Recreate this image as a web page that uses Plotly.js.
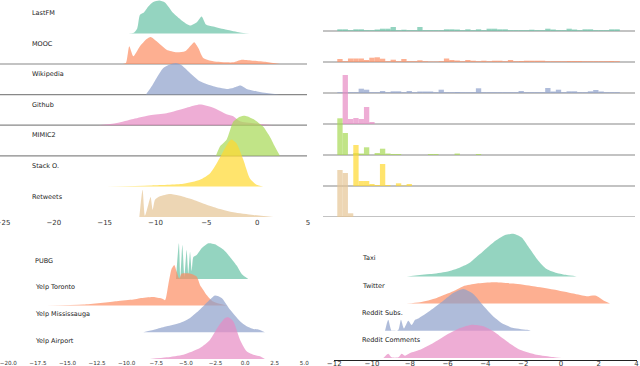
<!DOCTYPE html>
<html>
<head>
<meta charset="utf-8">
<script src="https://cdn.plot.ly/plotly-3.0.1.min.js"></script>
<style>body{margin:0;background:#fff}#chart{width:640px;height:366px}</style>
</head>
<body>
<div id="chart"></div>
<script>
// Set2 palette, one colour per ridge row
var colors = ['#66c2a5', '#fc8d62', '#8da0cb', '#e78ac3', '#a6d854', '#ffd92f', '#e5c494'];

// ---- top left: density ridges ----
var topNames = ['LastFM', 'MOOC', 'Wikipedia', 'Github', 'MIMIC2', 'Stack O.', 'Retweets'];

var lastfmX = [-13.17, -12.19, -11.8, -11.53, -11.14, -10.71, -10.22, -9.63, -9.07, -8.25, -7.43, -6.61, -5.96, -5.46, -5.04, -4.32, -3.0, -1.7, -0.78];
var lastfmY = [0, 0.3, 5, 18.7, 21, 27, 31.5, 33, 31, 20.3, 13, 8, 11, 17, 9, 7, 3.7, 1, 0];

var moocX = [-13.23, -12.9, -12.58, -12.18, -11.53, -10.87, -10.48, -9.89, -8.91, -7.92, -7.1, -6.45, -6.19, -5.79, -5.3, -4.32, -2.35, -1.53, -0.38, 0.93, 2.24];
var moocY = [0, 1, 17.7, 7.7, 17.7, 25, 27, 22.7, 14.3, 11.7, 12.7, 19.3, 21.7, 16, 6, 2.7, 1.7, 4.3, 3.3, 2, 0];

var wikiX = [-10.94, -10.38, -9.89, -9.23, -8.58, -7.99, -7.43, -6.61, -5.63, -4.32, -3.01, -2.35, -1.63, -1.04, 0.27, 2.24];
var wikiY = [0, 8.3, 16.7, 26.7, 30, 31.5, 29.3, 21.7, 13.3, 8.3, 5.7, 6.7, 9, 5.7, 2.7, 0];

var githubX = [-15.63, -13.82, -12.18, -10.55, -8.91, -6.94, -5.63, -4.32, -3.01, -2.35, -1.7, 0.27, 1.58];
var githubY = [0, 2.3, 6.3, 10, 12, 17.5, 20.7, 17.5, 11, 9, 4, 1.3, 0];

var mimicX = [-4.06, -3.66, -3.01, -2.35, -1.7, -1.2, -0.38, 0.6, 1.25, 1.75, 2.24];
var mimicY = [0, 9.3, 16, 34, 39, 40, 36.7, 29, 19, 9, 0];

var stackX = [-14.81, -10.55, -7.27, -5.63, -4.65, -3.99, -3.34, -2.84, -2.52, -2.02, -1.37, -0.71, -0.06, 0.6];
var stackY = [0, 1, 2.7, 6.7, 13, 23, 35, 44, 47, 43, 27, 8, 1.7, 0];

var retweetX = [-11.59, -11.27, -11.04, -10.71, -10.48, -10.28, -10.05, -9.56, -8.58, -7.6, -6.28, -4.97, -3.66, -2.35, -0.38, 1.58];
var retweetY = [0, 27.3, 1.3, 12.3, 20, 7.3, 17.3, 20.7, 23, 21.3, 17.3, 12.3, 8, 4.7, 2, 0];

// ---- top right: histograms, one bar per bin ----
var lastfmBins = [1.7, 1.7, 0.8, 1.7, 1.7, 0.8, 0.8, 1.5, 2.3, 2.3, 4, 0.8, 1.3, 0.8, 0.8, 4, 0.8, 0.8, 0.8, 0.8, 1.7, 1.7, 1.5, 0.8, 1.7, 0.8, 1.7, 0.8, 2.3, 2.3, 1.7, 1.7, 0.8, 0.8, 0.8, 0.8, 1.3, 0.8, 0.8, 2.3, 1.5, 0.8, 0.8, 2.3, 1.5, 0.8, 1.7, 1.7, 0.8, 0.8, 0.8, 1.7, 1.7];
var moocBins = [3, 0.8, 3.5, 3.5, 3.5, 2, 4.3, 4.7, 3.3, 0.8, 2.3, 0.8, 3, 0.8, 0.8, 1.7, 0.8, 0.5, 0.5, 0.8, 3.5, 2, 1.5, 0.8, 2, 1.3, 0.8, 1.3, 0.8, 1.3, 1.3, 0.8, 2, 0.8, 1, 1.3, 1.3, 1.3, 1.3, 0.8, 0.8, 0.8, 0.8, 1, 1, 1, 0.8, 0.8, 0.8, 0.8, 0.8, 1, 0.8];
var wikiBins = [0.8, 0.8, 0.8, 0.8, 4.3, 3.3, 0.8, 0.8, 2, 0.8, 1.7, 1.7, 0.8, 2, 0.8, 1.5, 1.5, 1.5, 0.8, 3.3, 0.8, 0.8, 1, 0.8, 0.8, 0.8, 4.7, 0.8, 0.8, 0.8, 0.8, 0.8, 0.8, 0.8, 2, 0.8, 0.8, 0.8, 0.8, 5, 1.5, 3.3, 0.8, 1.7, 1.7, 0.8, 0.8, 1.7, 3, 1.5, 0.8, 0.8, 0.8];
var githubBins = [0, 49, 5, 6, 5, 17, 2];
var mimicBins = [36.7, 22, 0, 2, 1.5, 7.7, 0, 2, 6.3, 1.5, 1, 1, 0, 0, 0, 0, 0, 1, 1, 0, 0, 0, 1.5, 0, 0, 0, 1];
var stackBins = [0, 0, 0, 41, 5, 5, 2, 1, 22, 1, 0, 2.7, 0.5, 2];
var retweetBins = [47, 44, 3.7];

// ---- bottom left ----
var bottomLeftNames = ['PUBG', 'Yelp Toronto', 'Yelp Mississauga', 'Yelp Airport'];
var pubgX = [-5.84, -5.59, -5.47, -5.30, -5.13, -4.94, -4.80, -4.65, -4.51, -4.37, -4.09, -3.67, -3.10, -2.55, -1.84, -1.28, -0.71, -0.29, 0.27];
var pubgY = [0, 35.7, 1, 34, 2, 29, 5, 27, 8, 22, 24, 30.7, 35.7, 34.7, 29.3, 22, 13.3, 5, 0];
var torontoX = [-16.76, -13.66, -10.85, -9.44, -8.88, -7.76, -7.05, -6.76, -6.49, -6.20, -5.98, -5.78, -5.56, -5.35, -4.65, -4.09, -3.81, -3.53, -3.25, -2.69, -1.55];
var torontoY = [0, 1, 4.3, 6, 7.3, 8.5, 7, 5.5, 20.7, 37, 40.7, 34, 27, 32, 32, 29, 20.7, 15.7, 10.7, 4, 0];
var missX = [-8.60, -7.47, -6.62, -5.50, -4.65, -3.81, -2.96, -2.55, -1.98, -1.28, -0.43, 0.13, 0.70, 1.11, 1.68];
var missY = [0, 3.3, 6, 9.3, 14.3, 22.7, 32.7, 36.7, 34.3, 22.7, 11, 6, 3.3, 2.7, 0];
var airportX = [-8.03, -6.62, -5.22, -3.81, -2.96, -2.26, -1.69, -1.42, -1.00, -0.43, 0.13, 0.70, 1.26, 1.68];
var airportY = [0, 1.7, 4.3, 11, 19.3, 32.7, 41, 41.7, 37.7, 19.3, 7.7, 4.3, 2.7, 0];

// ---- bottom right ----
var bottomRightNames = ['Taxi', 'Twitter', 'Reddit Subs.', 'Reddit Comments'];
var taxiX = [-8.16, -6.93, -6.05, -5.34, -4.81, -4.29, -3.58, -2.96, -2.52, -2.08, -1.64, -1.2, -0.76, -0.23, 0.3, 0.83];
var taxiY = [0, 2.3, 4.7, 9, 14, 22.3, 34, 41.3, 42.7, 39, 27.3, 15.7, 7.3, 3.3, 1.3, 0];
var twitterX = [-8.2, -7.46, -6.58, -5.7, -5.17, -4.46, -3.58, -2.52, -1.47, -0.41, 0.65, 1.36, 1.8, 2.06, 2.33, 2.59];
var twitterY = [0, 1.3, 5.7, 12.3, 17.3, 20, 21.3, 20, 17.3, 14, 10, 7.3, 8, 5.7, 2.3, 0];
var redsubX = [-9.31, -9.14, -8.96, -8.61, -8.47, -8.31, -8.08, -7.9, -7.72, -7.55, -6.93, -6.23, -5.7, -5.17, -4.64, -4.11, -3.58, -3.05, -2.52, -1.73, -1.6];
var redsubY = [0, 11, 0, 0.7, 11, 2.3, 10, 5.7, 11, 12.3, 20, 30, 37.7, 41.7, 36.7, 25, 14.3, 6.7, 2.7, 0.7, 0];
var redcomX = [-9.4, -9.14, -8.96, -8.61, -8.43, -8.25, -7.99, -7.46, -6.76, -6.05, -5.34, -4.73, -4.11, -3.58, -2.87, -2.17, -1.29, -0.41, 0.04];
var redcomY = [0, 4.3, 0.7, 0.7, 4.3, 2.3, 5, 8.3, 15, 23.3, 30, 33.3, 31.7, 26.7, 16.7, 8.3, 3.3, 1, 0];

function fade(hex, a) {
  var r = parseInt(hex.slice(1, 3), 16), g = parseInt(hex.slice(3, 5), 16), b = parseInt(hex.slice(5, 7), 16);
  return 'rgba(' + r + ',' + g + ',' + b + ',' + a + ')';
}

// a ridge = invisible floor line + curve filled down to it
function ridge(xs, hs, base, color, xa, ya) {
  var floor = {x: [xs[0], xs[xs.length - 1]], y: [base, base], xaxis: xa, yaxis: ya,
    mode: 'lines', line: {width: 0}, hoverinfo: 'skip'};
  var curve = {x: xs, y: hs.map(function (h) { return base + h; }), xaxis: xa, yaxis: ya,
    mode: 'lines', line: {width: 0, shape: 'spline', smoothing: 0.6},
    fill: 'tonexty', fillcolor: fade(color, 0.7)};
  return [floor, curve];
}

var data = [];
var shapes = [];
var annotations = [];
var labelFont = {family: 'DejaVu Sans', size: 6.5, color: '#222'};

var tlX = [lastfmX, moocX, wikiX, githubX, mimicX, stackX, retweetX];
var tlY = [lastfmY, moocY, wikiY, githubY, mimicY, stackY, retweetY];
var tlGap = 30.6;
tlX.forEach(function (xs, i) {
  var base = (6 - i) * tlGap;
  data = data.concat(ridge(xs, tlY[i], base, colors[i], 'x', 'y'));
  annotations.push({text: topNames[i], xref: 'paper', x: 30 / 640, yref: 'y', y: base + 20.5,
    xanchor: 'left', yanchor: 'middle', showarrow: false, font: labelFont});
  if (i >= 1 && i <= 4) {
    shapes.push({type: 'line', xref: 'paper', x0: 0, x1: 307 / 640, yref: 'y', y0: base, y1: base,
      line: {color: '#888', width: 1.2}, layer: 'below'});
  }
});

var trBins = [lastfmBins, moocBins, wikiBins, githubBins, mimicBins, stackBins, retweetBins];
var trGap = 31;
trBins.forEach(function (vals, i) {
  var base = (6 - i) * trGap;
  data.push({type: 'bar', y: vals, base: base, width: 1, xaxis: 'x2', yaxis: 'y2',
    marker: {color: fade(colors[i], 0.7), line: {width: 0}}, hoverinfo: 'skip'});
  shapes.push({type: 'line', xref: 'x2 domain', x0: 0, x1: 1, yref: 'y2', y0: base, y1: base,
    line: {color: '#888', width: 1.2}, layer: 'below'});
});

var blX = [pubgX, torontoX, missX, airportX];
var blY = [pubgY, torontoY, missY, airportY];
var blGap = 26.7;
blX.forEach(function (xs, i) {
  var base = (3 - i) * blGap;
  data = data.concat(ridge(xs, blY[i], base, colors[i], 'x3', 'y3'));
  annotations.push({text: bottomLeftNames[i], xref: 'paper', x: 33 / 640, yref: 'y3', y: base + 18.3,
    xanchor: 'left', yanchor: 'middle', showarrow: false, font: labelFont});
});

var brX = [taxiX, twitterX, redsubX, redcomX];
var brY = [taxiY, twitterY, redsubY, redcomY];
var brGap = 27.2;
brX.forEach(function (xs, i) {
  var base = (3 - i) * brGap;
  data = data.concat(ridge(xs, brY[i], base, colors[i], 'x4', 'y4'));
  annotations.push({text: bottomRightNames[i], xref: 'paper', x: 360 / 640, yref: 'y4', y: base + 18,
    xanchor: 'left', yanchor: 'middle', showarrow: false, font: labelFont});
});

var tickFont = {family: 'DejaVu Sans', size: 7, color: '#333'};
var hiddenY = {showgrid: false, zeroline: false, showticklabels: false, showline: false, fixedrange: true};
var plainX = {showgrid: false, zeroline: false, showline: false, ticks: '', ticklabeloverflow: 'allow'};

var layout = {
  width: 640, height: 366,
  margin: {l: 0, r: 0, t: 0, b: 0},
  showlegend: false,
  barmode: 'overlay',
  paper_bgcolor: '#fff', plot_bgcolor: 'rgba(0,0,0,0)',
  font: {family: 'DejaVu Sans'},
  xaxis: Object.assign({}, plainX, {domain: [3 / 640, 308 / 640], range: [-25, 5], tickvals: [-25, -20, -15, -10, -5, 0, 5], tickfont: tickFont, anchor: 'y'}),
  yaxis: Object.assign({}, hiddenY, {domain: [1 - 217 / 366, 1], range: [0, 217], anchor: 'x'}),
  xaxis2: Object.assign({}, plainX, {domain: [323 / 640, 635 / 640], range: [-3.18, 55.35], showticklabels: false, anchor: 'y2'}),
  yaxis2: Object.assign({}, hiddenY, {domain: [1 - 217 / 366, 1], range: [0, 217], anchor: 'x2'}),
  xaxis3: Object.assign({}, plainX, {domain: [8.3 / 640, 304.3 / 640], range: [-20, 5], dtick: 2.5, tick0: 0, tickformat: '.1f', tickfont: {family: 'DejaVu Sans', size: 5.6, color: '#333'}, ticklabelstandoff: -1, anchor: 'y3'}),
  yaxis3: Object.assign({}, hiddenY, {domain: [1 - 359 / 366, 1 - 232 / 366], range: [0, 127], anchor: 'x3'}),
  xaxis4: {domain: [334.2 / 640, 636.6 / 640], range: [-12, 4], dtick: 2, tick0: 0, showgrid: false, zeroline: false,
    showline: true, linecolor: '#222', linewidth: 1, ticks: '', ticklabelstandoff: -3, ticklabeloverflow: 'allow', tickfont: tickFont, anchor: 'y4'},
  yaxis4: Object.assign({}, hiddenY, {domain: [1 - 360 / 366, 1 - 232 / 366], range: [-2, 126], anchor: 'x4'}),
  shapes: shapes,
  annotations: annotations
};

Plotly.newPlot('chart', data, layout, {staticPlot: true});
</script>
</body>
</html>
